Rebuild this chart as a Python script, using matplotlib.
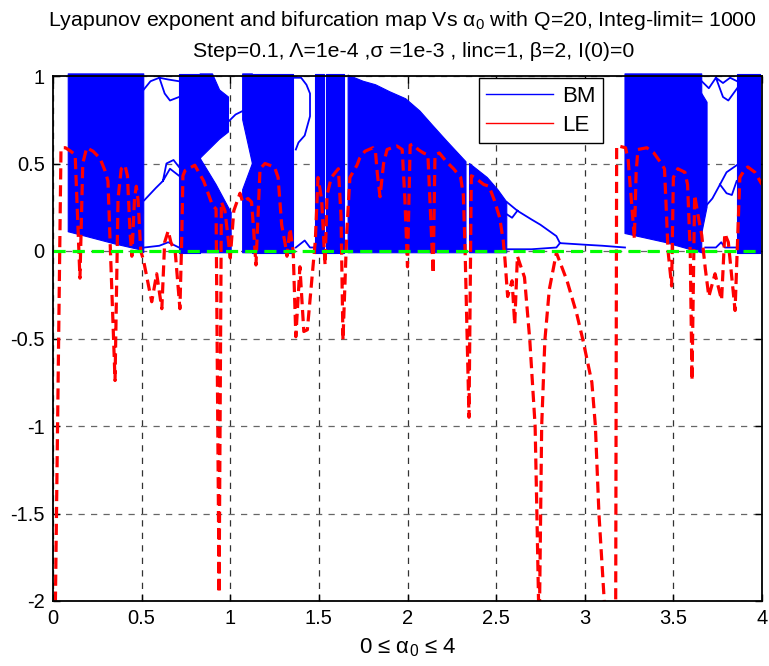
import numpy as np
import matplotlib
matplotlib.use("Agg")
import matplotlib.pyplot as plt
from matplotlib.lines import Line2D

nan = np.nan

# bifurcation map: chaotic bands as lower/upper edges (NaN splits the bands)
bm_x = [0.086, 0.20, 0.35, 0.50, 0.512, nan,
        0.711, 0.83, nan,
        0.83, 0.90, 0.94, 0.99, nan,
        0.83, 0.92, 1.005, nan,
        1.07, 1.125, nan,
        1.07, 1.125, nan,
        1.125, 1.355, nan,
        1.48, 1.53, nan,
        1.54, 1.64, nan,
        1.665, 1.75, 1.82, 1.90, 1.99, 2.07, 2.14, 2.22, 2.33, nan,
        2.35, 2.45, 2.51, 2.56, nan,
        3.227, 3.45, 3.66, nan,
        3.66, 3.69, nan,
        3.86, 3.99]
bm_lo = [0.11, 0.08, 0.04, 0.005, -0.01, nan,
         -0.01, -0.01, nan,
         0.53, 0.60, 0.64, 0.68, nan,
         -0.01, -0.01, -0.01, nan,
         -0.01, -0.01, nan,
         0.75, 0.50, nan,
         -0.01, -0.01, nan,
         -0.01, -0.01, nan,
         -0.01, -0.01, nan,
         -0.01, -0.01, -0.01, -0.01, -0.01, -0.01, -0.01, -0.01, -0.01, nan,
         -0.01, -0.01, -0.01, -0.01, nan,
         0.10, 0.05, -0.01, nan,
         0.10, 0.25, nan,
         -0.01, -0.01]
bm_hi = [1.012, 1.012, 1.012, 1.012, 1.012, nan,
         1.012, 1.012, nan,
         1.012, 1.012, 0.92, 0.88, nan,
         0.53, 0.38, 0.22, nan,
         0.35, 0.50, nan,
         1.012, 1.012, nan,
         1.012, 1.012, nan,
         1.012, 1.012, nan,
         1.012, 1.012, nan,
         1.005, 0.97, 0.95, 0.91, 0.87, 0.80, 0.72, 0.63, 0.51, nan,
         0.50, 0.42, 0.35, 0.28, nan,
         1.012, 1.012, 1.012, nan,
         0.90, 0.85, nan,
         1.012, 1.012]

# periodic branches of the bifurcation map
br_x = [0.51, 0.55, 0.60, 0.65, 0.711, nan,
        0.60, 0.63, 0.66, 0.711, nan,
        0.515, 0.58, 0.62, 0.66, 0.711, nan,
        0.62, 0.64, 0.68, 0.711, nan,
        0.515, 0.60, 0.65, 0.711, nan,
        0.99, 1.03, 1.07, nan,
        1.355, 1.40, 1.43, 1.45, 1.45, 1.42, 1.385, 1.37, nan,
        1.37, 1.42, 1.45, 1.48, nan,
        2.56, 2.62, 2.70, 2.75, 2.84, 2.86, 3.0, 3.1, 3.227, nan,
        2.56, 2.59, 2.62, nan,
        2.555, 2.70, 2.84, 2.86, nan,
        3.69, 3.72, 3.763, 3.80, 3.857, nan,
        3.763, 3.80, 3.83, 3.857, nan,
        3.66, 3.70, 3.74, 3.78, 3.82, 3.86, nan,
        3.74, 3.78, 3.81, 3.86, nan,
        3.68, 3.74, 3.77, 3.79, 3.86]
br_y = [0.92, 0.97, 0.99, 0.98, 0.97, nan,
        0.99, 0.90, 0.86, 0.88, nan,
        0.29, 0.36, 0.40, 0.47, 0.43, nan,
        0.40, 0.50, 0.52, 0.48, nan,
        0.02, 0.03, 0.05, 0.02, nan,
        0.74, 0.78, 0.80, nan,
        0.99, 0.99, 0.95, 0.90, 0.77, 0.66, 0.62, 0.58, nan,
        0.02, 0.06, 0.02, 0.02, nan,
        0.28, 0.23, 0.18, 0.15, 0.085, 0.045, 0.036, 0.03, 0.02, nan,
        0.21, 0.19, 0.23, nan,
        0.01, 0.01, 0.02, 0.045, nan,
        0.265, 0.30, 0.38, 0.45, 0.49, nan,
        0.38, 0.33, 0.32, 0.40, nan,
        0.97, 0.93, 0.99, 0.96, 0.99, 0.97, nan,
        0.99, 0.88, 0.86, 0.93, nan,
        0.02, 0.02, 0.05, 0.02, 0.02]

# Lyapunov exponent
le_x = [0.01, 0.045, 0.05, 0.07, 0.10, 0.125, 0.152, 0.168, 0.19, 0.226,
        0.265, 0.293, 0.31, 0.35, 0.367, 0.385, 0.406, 0.42, 0.435, 0.445,
        0.46, 0.47, 0.48, 0.495, 0.51, 0.557, 0.585, 0.614, 0.63, 0.65,
        0.665, 0.69, 0.716, 0.727, 0.733, 0.745, 0.80, 0.85, 0.90, 0.92,
        0.937, 0.95, 0.97, 0.985, 1.0, 1.02, 1.055, 1.07, 1.10, 1.12,
        1.13, 1.145, 1.168, 1.196, 1.25, 1.27, 1.29, 1.31, 1.32, 1.337,
        1.355, 1.37, 1.393, 1.415, 1.435, 1.48, 1.495, 1.515, 1.535, 1.546,
        1.57, 1.61, 1.625, 1.636, 1.657, 1.675, 1.715, 1.73, 1.76, 1.805,
        1.82, 1.83, 1.845, 1.865, 1.885, 1.94, 1.97, 1.985, 2.0, 2.015,
        2.03, 2.06, 2.09, 2.115, 2.145, 2.155, 2.18, 2.22, 2.26, 2.30,
        2.315, 2.325, 2.347, 2.36, 2.38, 2.43, 2.46, 2.49, 2.52, 2.54,
        2.55, 2.565, 2.59, 2.605, 2.62, 2.66, 2.69, 2.72, 2.73, 2.743,
        2.757, 2.775, 2.80, 2.84, 2.90, 2.955, 2.99, 3.04, 3.06, 3.08,
        3.11, 3.14, 3.174, 3.18, 3.19, 3.23, 3.245, 3.28, 3.29, 3.30,
        3.35, 3.39, 3.425, 3.45, 3.47, 3.49, 3.50, 3.525, 3.565, 3.58,
        3.595, 3.605, 3.62, 3.64, 3.66, 3.68, 3.70, 3.735, 3.772, 3.79,
        3.81, 3.848, 3.875, 3.905, 3.92, 3.96, 4.0]
le_y = [-2.3, 0.58, 0.59, 0.59, 0.57, 0.55, -0.155, 0.50, 0.59, 0.57,
        0.53, 0.46, 0.40, -0.74, 0.30, 0.47, 0.49, 0.43, 0.10, -0.03,
        0.30, 0.37, 0.29, 0.0, -0.05, -0.29, -0.13, -0.33, 0.05, 0.115,
        0.05, -0.01, -0.33, 0.10, 0.43, 0.46, 0.49, 0.40, 0.26, 0.24,
        -1.955, 0.28, 0.23, 0.10, -0.04, 0.23, 0.33, 0.28, 0.30, 0.28,
        0.15, -0.08, 0.47, 0.50, 0.48, 0.42, 0.15, 0.04, -0.03, 0.13,
        0.0, -0.49, -0.09, -0.46, -0.45, 0.06, 0.42, 0.30, -0.08, 0.32,
        0.42, 0.47, 0.20, -0.51, 0.10, 0.42, 0.49, 0.53, 0.57, 0.59,
        0.56, 0.44, 0.31, 0.50, 0.58, 0.60, 0.58, 0.30, -0.09, 0.605,
        0.61, 0.58, 0.56, 0.55, -0.13, 0.55, 0.56, 0.51, 0.47, 0.42,
        0.32, 0.0, -0.95, 0.43, 0.42, 0.38, 0.37, 0.29, 0.19, 0.06,
        -0.05, -0.26, -0.17, -0.42, -0.03, -0.15, -0.51, -1.0, -1.5, -2.2,
        -1.0, -0.51, -0.22, -0.01, -0.17, -0.36, -0.51, -0.75, -1.0, -1.5,
        -2.0, -2.6, -2.3, 0.60, 0.60, 0.59, 0.52, 0.07, 0.45, 0.58,
        0.59, 0.56, 0.51, 0.47, 0.0, -0.20, 0.42, 0.47, 0.45, 0.38,
        0.0, -0.74, 0.32, 0.20, 0.09, -0.10, -0.26, -0.13, -0.28, 0.10,
        0.05, -0.34, 0.42, 0.47, 0.48, 0.45, 0.38]

x_ticks = [0, 0.5, 1, 1.5, 2, 2.5, 3, 3.5, 4]
x_labels = ["0", "0.5", "1", "1.5", "2", "2.5", "3", "3.5", "4"]
y_ticks = [-2, -1.5, -1, -0.5, 0, 0.5, 1]
y_labels = ["-2", "-1.5", "-1", "-0.5", "0", "0.5", "1"]

plt.rcParams["font.family"] = ["Liberation Sans", "DejaVu Sans"]
plt.rcParams["mathtext.fontset"] = "custom"
plt.rcParams["mathtext.rm"] = "Liberation Sans"
plt.rcParams["mathtext.it"] = "Liberation Sans"
plt.rcParams["mathtext.default"] = "regular"

fig = plt.figure(figsize=(7.69, 6.66), dpi=100)
ax = fig.add_axes([53 / 769, 65 / 666, 709 / 769, 525 / 666])

# chaotic part may poke a pixel past the frame, as in the original
ax.fill_between(bm_x, bm_lo, bm_hi, color=(0, 0, 1), lw=0.8, zorder=2,
                clip_on=False)
ax.plot(br_x, br_y, color=(0, 0, 1), lw=1.3, zorder=2)
ax.plot(le_x, le_y, color=(1, 0, 0), lw=2.3, ls=(0, (3.5, 1.8)), zorder=3)
ax.plot([0, 4], [0, 0], color=(0, 1, 0), lw=2.3, ls=(0, (3.8, 2.2)), zorder=4)

ax.set_xlim(0, 4)
ax.set_ylim(-2, 1)
ax.set_xticks(x_ticks)
ax.set_xticklabels(x_labels)
ax.set_yticks(y_ticks)
ax.set_yticklabels(y_labels)
ax.tick_params(direction="in", length=5, width=1, labelsize=14.5,
               top=True, right=True, pad=6)
ax.grid(True, axis="x", color="#333333", lw=0.9, ls=(0, (5, 5)))
ax.grid(True, axis="y", color="#666666", lw=0.9, ls=(0, (5, 5)))
ax.set_axisbelow(True)
for sp in ax.spines.values():
    sp.set_linewidth(1.3)
    sp.set_zorder(5)

ax.set_xlabel("0 \u2264 \u03b1$_0$ \u2264 4", fontsize=16, labelpad=6)

fig.text(0.523, 0.961, "Lyapunov exponent and bifurcation map Vs \u03b1$_0$ with Q=20, Integ-limit= 1000",
         ha="center", va="baseline", fontsize=15.3)
fig.text(0.538, 0.914, "Step=0.1, \u039b=1e-4 ,\u03c3 =1e-3 , linc=1, \u03b2=2, I(0)=0",
         ha="center", va="baseline", fontsize=15.3)

handles = [Line2D([], [], color=(0, 0, 1), lw=1),
           Line2D([], [], color=(1, 0, 0), lw=1)]
leg = ax.legend(handles, ["BM", "LE"], loc="upper right",
                bbox_to_anchor=(0.776, 0.996), fontsize=16, handlelength=3.0,
                handletextpad=0.4, labelspacing=0.35, borderpad=0.35,
                borderaxespad=0, fancybox=False, framealpha=1, edgecolor="black")
leg.get_frame().set_linewidth(1.0)
leg.set_zorder(6)

fig.savefig("out.png", dpi=100)
